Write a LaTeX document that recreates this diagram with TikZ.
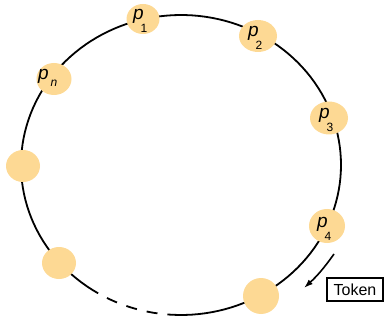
\documentclass[tikz,border=0pt]{standalone}
\usepackage{fontspec}
\setmainfont{Liberation Sans}
\usepackage{tikz}
\usetikzlibrary{shapes.geometric,arrows.meta}
\definecolor{procfill}{RGB}{253,217,148}
\NewDocumentCommand{\procname}{O{-10pt} O{-3pt} O{-14pt} m}{%
	\smash{\makebox[0pt][l]{\kern#1%
		\raisebox{-1pt}{\fontsize{19}{19}\selectfont\itshape p}\kern#2%
		\raisebox{#3}{\fontsize{12}{12}\selectfont #4}}}%
}
\tikzset{/RING/S/proc/.style={
	shape=ellipse, fill=procfill, inner sep=0pt,
	minimum width=36pt, minimum height=32pt
}}
\tikzset{/RING/S/ring/.style={
	line width=1.8pt
}}

\begin{document}
\begin{tikzpicture}[x=1pt, y=-1pt]
			\useasboundingbox (0,0) rectangle (385,320);
			\draw[/RING/S/ring] plot[domain=121.2:453.2, samples=140]
				({181+160*cos(\x)}, {165+150*sin(\x)});
			\draw[/RING/S/ring, dash pattern=on 11pt off 10pt, dash phase=11pt]
				plot[domain=121.2:93.2, samples=30]
				({181+160*cos(\x)}, {165+150*sin(\x)});
			\path (143,19) node[/RING/S/proc, minimum width=33pt, minimum height=30pt] (P1) {\procname{1}};
			\path (258,36) node[/RING/S/proc, minimum width=38pt] (P2) {\procname{2}};
			\path (329,118) node[/RING/S/proc, minimum width=38pt, minimum height=33pt] (P3) {\procname{3}};
			\path (327,226) node[/RING/S/proc, minimum height=34pt] (P4) {\procname{4}};
			\path (54,79) node[/RING/S/proc, minimum width=35pt] (Pn) {\procname[-16pt][2pt][-8pt]{\textit{n}}};
			\path (23,166) node[/RING/S/proc, minimum width=34pt] (Pa) {};
			\path (59,263) node[/RING/S/proc, minimum width=34pt] (Pb) {};
			\path (261,296) node[/RING/S/proc, minimum height=36pt] (Pc) {};
			\path (355,289.5) node[draw, line width=1.2pt, inner sep=0pt,
				minimum width=56pt, minimum height=23pt,
				font=\fontsize{16}{16}\selectfont] (token) {Token};
			\path (334,254) coordinate (tokA);
			\path (304,288) coordinate (tokB);
			\draw[line width=1.6pt, -{Latex[length=9pt, width=6pt]}] (tokA) to[bend left=6] (tokB);
		\end{tikzpicture}
\end{document}
